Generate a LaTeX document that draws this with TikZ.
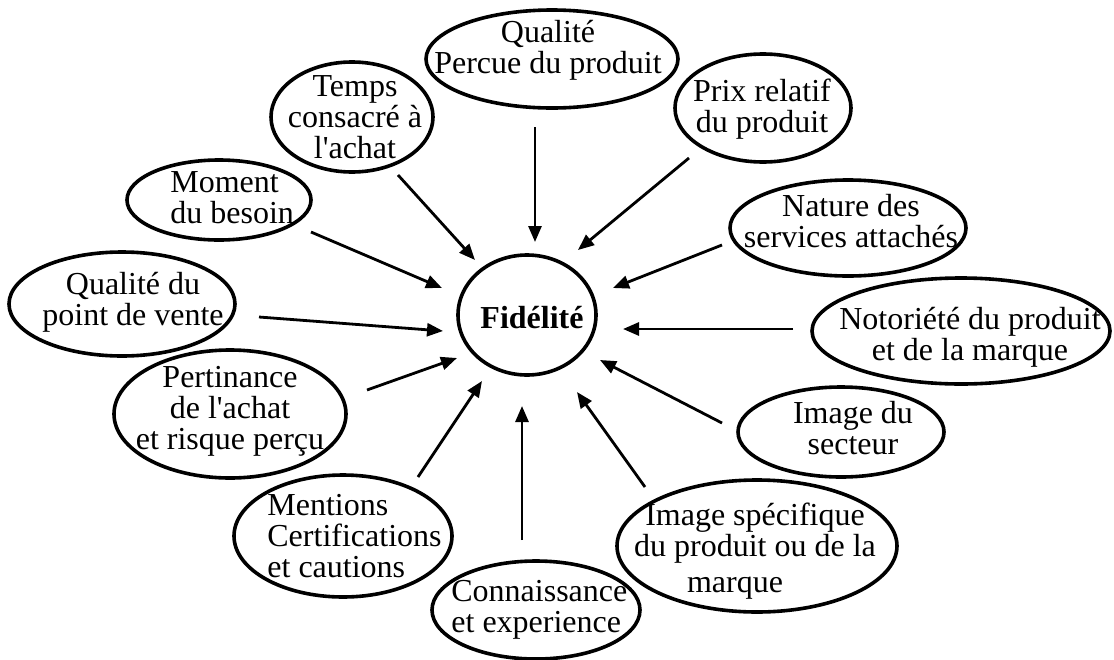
\documentclass[tikz,border=0pt]{standalone}
\usepackage{fontspec}
\setmainfont{Liberation Serif}
\usetikzlibrary{shapes.geometric,arrows.meta}
\newcommand\apos{\textquotesingle}
\begin{document}
\begin{tikzpicture}[x=0.5pt,y=-0.5pt,
  bubble/.style={draw, ellipse, line width=1.8pt, inner sep=0pt},
  radii/.style 2 args={minimum width=#1pt, minimum height=#2pt},
  lbl/.style={align=center, font=\fontsize{16}{15.5}\selectfont, inner sep=0pt},
  lbll/.style={align=left, anchor=west, font=\fontsize{16}{15.5}\selectfont, inner sep=0pt},
  feed/.style={-{Triangle[length=8pt,width=6.5pt]}, line width=1.4pt}]
\useasboundingbox (0,0) rectangle (1114,659);
\fill[white] (0,0) rectangle (1114,659);

% central concept
\node[bubble, radii={69}{60}] (fid) at (527,315) {};
\node[lbl, font=\fontsize{16}{15.5}\selectfont\bfseries] (fidt) at (532,318) {Fidélité};

% surrounding factors
\node[bubble, radii={126}{49}] (qp) at (552,59) {};
\node[lbl] (qpt) at (548,50) {Qualité\\Percue du produit};

\node[bubble, radii={81}{55}] (temps) at (352,117) {};
\node[lbl] (tempst) at (355,117) {Temps\\consacré à\\l\apos achat};

\node[bubble, radii={92}{40}] (moment) at (219,200) {};
\node[lbll] (momentt) at (170,198) {Moment\\du besoin};

\node[bubble, radii={113}{52}] (qpdv) at (122,304) {};
\node[lbl] (qpdvt) at (133,302) {Qualité du\\point de vente};

\node[bubble, radii={116}{64}] (pert) at (230,414) {};
\node[lbl] (pertt) at (230,411) {Pertinance\\de l\apos achat\\et risque perçu};

\node[bubble, radii={109}{61}] (ment) at (343,536) {};
\node[lbll] (mentt) at (267,536) {Mentions\\Certifications\\et cautions};

\node[bubble, radii={104}{49}] (conn) at (536,610) {};
\node[lbll] (connt) at (451,610) {Connaissance\\et experience};

\node[bubble, radii={140}{66}] (ispec) at (757,546) {};
\node[lbl] (ispect) at (755,533) {Image spécifique\\du produit ou de la};
\node[lbl] (ispecm) at (735,588) {marque};

\node[bubble, radii={103}{45}] (isect) at (841,432) {};
\node[lbl] (isectt) at (853,428) {Image du\\secteur};

\node[bubble, radii={149}{53}] (noto) at (961,331) {};
\node[lbl] (notot) at (970,337) {Notoriété du produit\\et de la marque};

\node[bubble, radii={118}{48}] (nature) at (848,228) {};
\node[lbl] (naturet) at (851,221) {Nature des\\services attachés};

\node[bubble, radii={88}{54}] (prix) at (763,108) {};
\node[lbl] (prixt) at (762,109) {Prix relatif\\du produit};

% arrow end points
\coordinate (qp-o) at (535,127);      \coordinate (qp-i) at (535,242);
\coordinate (temps-o) at (398,175);   \coordinate (temps-i) at (475,260);
\coordinate (moment-o) at (311,232);  \coordinate (moment-i) at (442,288);
\coordinate (qpdv-o) at (259,317);    \coordinate (qpdv-i) at (443,331);
\coordinate (pert-o) at (367,390);    \coordinate (pert-i) at (457,358);
\coordinate (ment-o) at (418,477);    \coordinate (ment-i) at (482,381);
\coordinate (conn-o) at (522,540);    \coordinate (conn-i) at (522,406);
\coordinate (ispec-o) at (645,487);   \coordinate (ispec-i) at (577,392);
\coordinate (isect-o) at (722,423);   \coordinate (isect-i) at (600,360);
\coordinate (noto-o) at (793,329);    \coordinate (noto-i) at (623,329);
\coordinate (nature-o) at (722,245);  \coordinate (nature-i) at (613,288);
\coordinate (prix-o) at (689,158);    \coordinate (prix-i) at (578,250);

\foreach \k in {qp,temps,moment,qpdv,pert,ment,conn,ispec,isect,noto,nature,prix}
  \draw[feed] (\k-o) -- (\k-i);
\end{tikzpicture}
\end{document}
